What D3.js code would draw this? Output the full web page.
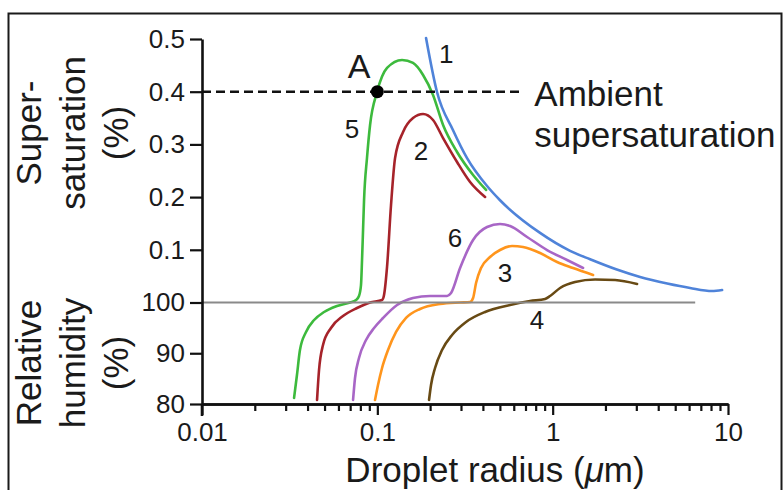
<!DOCTYPE html>
<html>
<head>
<meta charset="utf-8">
<script src="https://cdn.jsdelivr.net/npm/d3@7"></script>
<style>
  body { margin: 0; background: #fff; }
  text { font-family: "Liberation Sans", Arial, Helvetica, sans-serif; fill: #1a1a1a; }
</style>
</head>
<body>
<script>
// values: [droplet radius (um), RH - 100 (%)]; positive part = supersaturation
const radiusTicks = [0.01, 0.1, 1, 10];
const supersatTicks = [0.1, 0.2, 0.3, 0.4, 0.5];
const rhTicks = [80, 90, 100];
const ambientSupersat = 0.4;
const ambientLineEnd = 0.68;
const saturationLineEnd = 6.5;
const pointA = [0.1, 0.4];

const curve1 = [[0.1896, 0.502], [0.2191, 0.399], [0.2703, 0.327], [0.3249, 0.274], [0.4225, 0.221],
  [0.501, 0.194], [0.8475, 0.132], [1.257, 0.098], [1.635, 0.082], [2.3, 0.063], [3.152, 0.0484],
  [4.5, 0.036], [6.081, 0.0275], [8.114, 0.0218], [9.254, 0.0237]];
const curve2 = [[0.0453, -19.21], [0.0465, -13.3], [0.049, -8.37], [0.0544, -5.02], [0.0637, -2.66],
  [0.0766, -1.08], [0.0909, 0], [0.1064, 0.0047], [0.1092, 0.0142], [0.1136, 0.0674], [0.1197, 0.185],
  [0.1262, 0.274], [0.1402, 0.3235], [0.1598, 0.35], [0.1823, 0.3577], [0.2078, 0.3463],
  [0.2371, 0.312], [0.2849, 0.2666], [0.338, 0.2287], [0.4116, 0.2002]];
const curve3 = [[0.097, -19.21], [0.1009, -16.26], [0.1064, -12.91], [0.1151, -9.36], [0.1279, -5.81],
  [0.1458, -3.05], [0.1752, -1.28], [0.2279, -0.3], [0.2964, 0], [0.338, 0.001], [0.3516, 0.0085],
  [0.3656, 0.037], [0.3905, 0.0655], [0.4395, 0.0863], [0.501, 0.0996], [0.5867, 0.1072],
  [0.6778, 0.1053], [0.8475, 0.0939], [1.0595, 0.0769], [1.307, 0.0655], [1.7, 0.0522]];
const curve4 = [[0.1972, -19.21], [0.2024, -16.26], [0.2134, -12.91], [0.2339, -9.36], [0.2668, -6.4],
  [0.3206, -3.84], [0.4116, -1.87], [0.5715, -0.49], [0.7431, 0.0028], [0.9053, 0.0066],
  [0.9666, 0.0123], [1.102, 0.0275], [1.342, 0.0389], [1.745, 0.0436], [2.27, 0.0427], [3.03, 0.0351]];
const curve5 = [[0.0335, -18.82], [0.0348, -14.29], [0.0362, -9.36], [0.0392, -5.81], [0.0436, -3.45],
  [0.0497, -1.87], [0.0589, -0.69], [0.0699, 0], [0.0756, 0.0047], [0.0786, 0.0123], [0.0807, 0.0332],
  [0.0818, 0.0806], [0.0829, 0.1376], [0.084, 0.1945], [0.0873, 0.2742], [0.0909, 0.3368],
  [0.0996, 0.3994], [0.1136, 0.445], [0.1383, 0.4602], [0.1598, 0.4545], [0.1823, 0.4317],
  [0.2078, 0.3937], [0.2371, 0.3368], [0.2849, 0.2856], [0.3516, 0.2419], [0.417, 0.2135]];
const curve6 = [[0.0727, -19.21], [0.0746, -14.88], [0.0786, -10.94], [0.0862, -7.39], [0.0958, -5.02],
  [0.1078, -3.05], [0.1296, -0.49], [0.1598, 0.0085], [0.1998, 0.0123], [0.2498, 0.0123],
  [0.2633, 0.018], [0.2964, 0.0655], [0.3516, 0.1186], [0.4225, 0.1433], [0.501, 0.149],
  [0.5715, 0.1452], [0.7145, 0.1243], [0.9292, 0.0996], [1.208, 0.0806], [1.491, 0.0655]];

const curveColors = ["#4f83d9", "#a6232a", "#ff951c", "#684a14", "#3dba3d", "#a866c6"];
const curveLabels = [["1", 0.247, 0.473], ["2", 0.1775, 0.289], ["3", 0.535, 0.056], ["4", 0.815, -3.45],
  ["5", 0.0717, 0.329], ["6", 0.2775, 0.1224]];

const width = 784, height = 490;
const svg = d3.select("body").append("svg")
  .attr("width", width)
  .attr("height", height);

// outer frame
svg.append("rect")
  .attr("x", 8.5).attr("y", 13.5)
  .attr("width", 773).attr("height", 500)
  .attr("fill", "none").attr("stroke", "#1a1a1a").attr("stroke-width", 2);

const x = d3.scaleLog().domain([0.01, 10]).range([202, 728]);
// lower part in RH (80..100), upper part in supersaturation (0..0.5)
const y = d3.scaleLinear().domain([-20, 0, 0.5]).range([404, 302.5, 39]);

const line = d3.line()
  .x(d => x(d[0]))
  .y(d => y(d[1]))
  .curve(d3.curveMonotoneX);

const curves = [curve1, curve2, curve3, curve4, curve5, curve6];
const drawOrder = [3, 2, 5, 1, 4, 0];
drawOrder.forEach(i => {
  svg.append("path")
    .datum(curves[i])
    .attr("d", line)
    .attr("fill", "none")
    .attr("stroke", curveColors[i])
    .attr("stroke-width", 2.6)
    .attr("stroke-linecap", "round");
});

// 100% RH line
svg.append("line")
  .attr("x1", x(0.01)).attr("x2", x(saturationLineEnd))
  .attr("y1", y(0)).attr("y2", y(0))
  .attr("stroke", "#8a8a8a").attr("stroke-width", 2);

// ambient supersaturation
svg.append("line")
  .attr("x1", x(0.01)).attr("x2", x(ambientLineEnd))
  .attr("y1", y(ambientSupersat)).attr("y2", y(ambientSupersat))
  .attr("stroke", "#111").attr("stroke-width", 2.6)
  .attr("stroke-dasharray", "9,5");

svg.append("circle")
  .attr("cx", x(pointA[0])).attr("cy", y(pointA[1]))
  .attr("r", 6.5).attr("fill", "#000");

svg.append("text")
  .attr("x", x(0.0786)).attr("y", y(0.4488))
  .attr("dy", "0.36em")
  .attr("text-anchor", "middle")
  .attr("font-size", "34px")
  .text("A");

svg.selectAll(".clabel")
  .data(curveLabels)
  .enter().append("text")
  .attr("class", "clabel")
  .attr("x", d => x(d[1]))
  .attr("y", d => y(d[2]))
  .attr("dy", "0.36em")
  .attr("text-anchor", "middle")
  .attr("font-size", "26px")
  .text(d => d[0]);

svg.append("text")
  .attr("x", x(ambientLineEnd) + 11)
  .attr("y", y(ambientSupersat) + 14)
  .attr("font-size", "35px")
  .text("Ambient");
svg.append("text")
  .attr("x", x(ambientLineEnd) + 11)
  .attr("y", y(ambientSupersat) + 55)
  .attr("font-size", "35px")
  .text("supersaturation");

// x axis: major + minor ticks
const minorTicks = x.ticks().filter(t => !radiusTicks.some(m => Math.abs(m - t) < 1e-9));
const xMinor = svg.append("g")
  .attr("transform", "translate(0," + y(-20) + ")")
  .call(d3.axisBottom(x).tickValues(minorTicks).tickSize(7).tickSizeOuter(0).tickFormat(""));
const xAxis = svg.append("g")
  .attr("transform", "translate(0," + y(-20) + ")")
  .call(d3.axisBottom(x).tickValues(radiusTicks).tickSize(11).tickSizeOuter(0).tickPadding(8)
    .tickFormat(d => d));
xAxis.selectAll("text").attr("font-size", "26px").attr("fill", "#1a1a1a");

// y axis
const yVals = rhTicks.map(d => d - 100).concat(supersatTicks);
const yAxis = svg.append("g")
  .attr("transform", "translate(" + x(0.01) + ",0)")
  .call(d3.axisLeft(y).tickValues(yVals).tickSize(12).tickSizeOuter(0).tickPadding(5)
    .tickFormat(d => d <= 0 ? 100 + d : d));
yAxis.selectAll("text").attr("font-size", "26px").attr("fill", "#1a1a1a");

[xMinor, xAxis, yAxis].forEach(g => {
  g.selectAll("line").attr("stroke", "#111").attr("stroke-width", 2.2);
  g.select(".domain").attr("stroke", "#111").attr("stroke-width", 2.6);
});
// y axis runs a little below the x axis
svg.append("line")
  .attr("x1", x(0.01)).attr("x2", x(0.01))
  .attr("y1", y(-20)).attr("y2", y(-20) + 12)
  .attr("stroke", "#111").attr("stroke-width", 2.6);

// axis titles
svg.append("text")
  .attr("x", 495).attr("y", 482)
  .attr("text-anchor", "middle")
  .attr("font-size", "35px")
  .html("Droplet radius (<tspan font-style='italic'>\u03bc</tspan>m)");

const leftTitles = [
  { lines: ["Super-", "saturation", "(%)"], cy: 133 },
  { lines: ["Relative", "humidity", "(%)"], cy: 363 }
];
leftTitles.forEach(t => {
  t.lines.forEach((s, i) => {
    svg.append("text")
      .attr("transform", "translate(" + (41 + i * 43.5) + "," + t.cy + ") rotate(-90)")
      .attr("text-anchor", "middle")
      .attr("font-size", "35px")
      .text(s);
  });
});
</script>
</body>
</html>
